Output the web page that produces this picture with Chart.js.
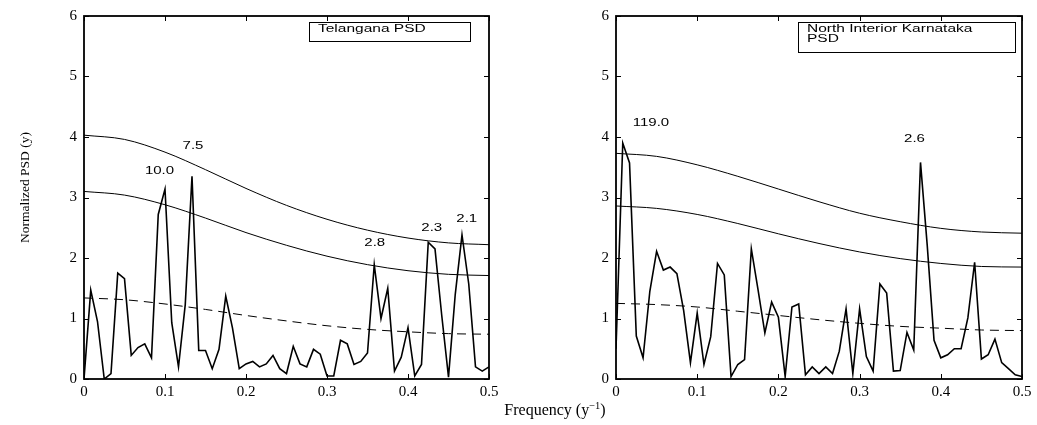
<!DOCTYPE html>
<html><head><meta charset="utf-8">
<script src="https://cdn.jsdelivr.net/npm/chart.js@4.4.1/dist/chart.umd.min.js"></script>
<style>
html,body{margin:0;padding:0;background:#fff;}
#wrap{position:relative;width:1037px;height:425px;overflow:hidden;background:#fff;}
#c1{position:absolute;left:0;top:0;width:545px;height:425px;}
#c2{position:absolute;left:545px;top:0;width:492px;height:425px;}
#xlabel{position:absolute;left:455px;width:200px;top:401px;text-align:center;font-family:"Liberation Serif","Times New Roman",serif;font-size:16px;color:#000;line-height:18px;}
#xlabel sup{font-size:10.5px;line-height:0;}
</style></head><body>
<div id="wrap">
<canvas id="c1" width="545" height="425"></canvas>
<canvas id="c2" width="492" height="425"></canvas>
<div id="xlabel">Frequency (y<sup>−1</sup>)</div>
</div>
<script>
// ---- data ----
const N_YEARS = 120;            // frequency grid k / N
const telanganaPSD = [0,1.47,0.95,0.0,0.09,1.75,1.66,0.39,0.52,0.58,0.35,2.72,3.14,0.93,0.2,1.23,3.35,0.47,0.47,0.17,0.49,1.37,0.84,0.17,0.25,0.29,0.2,0.25,0.39,0.17,0.09,0.54,0.25,0.2,0.49,0.41,0.05,0.05,0.64,0.58,0.24,0.29,0.43,1.89,1.0,1.5,0.13,0.36,0.85,0.05,0.24,2.26,2.15,1.05,0.03,1.4,2.38,1.57,0.2,0.13,0.2];
const karnatakaPSD = [0.5,3.9,3.57,0.71,0.35,1.45,2.11,1.8,1.85,1.74,1.13,0.27,1.09,0.24,0.7,1.91,1.72,0.04,0.24,0.32,2.15,1.47,0.76,1.27,1.02,0.04,1.19,1.24,0.07,0.2,0.09,0.2,0.09,0.46,1.16,0.09,1.16,0.37,0.13,1.57,1.42,0.13,0.14,0.77,0.48,3.58,2.2,0.64,0.35,0.4,0.5,0.5,1.01,1.93,0.33,0.4,0.66,0.27,0.17,0.07,0.04];

const curveFreqs = [0,0.05,0.1,0.15,0.2,0.25,0.3,0.35,0.4,0.45,0.5];
const telUpper  = [4.03,3.96,3.75,3.46,3.15,2.87,2.64,2.46,2.33,2.25,2.22];
const telLower  = [3.10,3.04,2.88,2.66,2.42,2.21,2.03,1.89,1.79,1.73,1.71];
const telMean   = [1.34,1.31,1.24,1.15,1.05,0.96,0.88,0.82,0.78,0.75,0.74];
const karUpper  = [3.73,3.68,3.54,3.35,3.14,2.93,2.74,2.60,2.49,2.43,2.41];
const karLower  = [2.86,2.82,2.72,2.57,2.40,2.24,2.10,1.99,1.91,1.86,1.85];
const karMean   = [1.25,1.23,1.19,1.12,1.05,0.98,0.92,0.87,0.84,0.81,0.80];

const telPeakLabels = [
  {x:0.0932, y:3.44, t:'10.0'},
  {x:0.1346, y:3.85, t:'7.5'},
  {x:0.3589, y:2.25, t:'2.8'},
  {x:0.4293, y:2.50, t:'2.3'},
  {x:0.4725, y:2.64, t:'2.1'}
];
const karPeakLabels = [
  {x:0.0431, y:4.22, t:'119.0'},
  {x:0.3676, y:3.96, t:'2.6'}
];
const telLegend = ['Telangana PSD'];
const karLegend = ['North Interior Karnataka','PSD'];
const xTickStep = 0.1, yTickStep = 1;

// ---- drawing ----
const SERIF = '"Liberation Serif","Times New Roman",Times,serif';
const SANS = '"Liberation Sans",Arial,Helvetica,sans-serif';

function pts(xs, ys){ return ys.map((v,i)=>({x:xs[i], y:v})); }
const gridFreqs = telanganaPSD.map((_,k)=>k/N_YEARS);

function framePlugin(cfg){
  return {
    id:'frame',
    afterDraw(chart){
      const ctx = chart.ctx, a = chart.chartArea;
      const xs = chart.scales.x, ys = chart.scales.y;
      ctx.save();
      ctx.strokeStyle = '#000'; ctx.lineWidth = 1.8;
      ctx.strokeRect(a.left, a.top, a.right-a.left, a.bottom-a.top);
      ctx.lineWidth = 1;
      const tl = 5;
      ys.ticks.forEach(t=>{
        const y = Math.round(ys.getPixelForValue(t.value))+0.5;
        ctx.beginPath(); ctx.moveTo(a.left, y); ctx.lineTo(a.left+tl, y);
        ctx.moveTo(a.right, y); ctx.lineTo(a.right-tl, y); ctx.stroke();
      });
      xs.ticks.forEach(t=>{
        const x = Math.round(xs.getPixelForValue(t.value))+0.5;
        ctx.beginPath(); ctx.moveTo(x, a.bottom); ctx.lineTo(x, a.bottom-tl);
        ctx.moveTo(x, a.top); ctx.lineTo(x, a.top+tl); ctx.stroke();
      });
      // legend box
      const b = cfg.box;
      const bx = a.left + b.dx, by = a.top + b.dy;
      ctx.lineWidth = 1;
      ctx.strokeRect(Math.round(bx)+0.5, Math.round(by)+0.5, b.w, b.h);
      ctx.fillStyle = '#000';
      ctx.font = '10px ' + SANS;
      ctx.textAlign = 'left'; ctx.textBaseline = 'middle';
      cfg.legend.forEach((line,i)=>{
        ctx.save();
        ctx.translate(bx + 9, by + 7.5 + i*10);
        ctx.scale(1.55,1);
        ctx.fillText(line, 0, 0);
        ctx.restore();
      });
      // peak period labels
      ctx.textAlign = 'center';
      cfg.peaks.forEach(p=>{
        ctx.save();
        ctx.translate(xs.getPixelForValue(p.x), ys.getPixelForValue(p.y));
        ctx.scale(1.5,1);
        ctx.fillText(p.t, 0, 0);
        ctx.restore();
      });
      if (cfg.yTitle){
        ctx.save();
        ctx.translate(25, (a.top+a.bottom)/2 - 10);
        ctx.rotate(-Math.PI/2);
        ctx.font = '13.5px ' + SERIF;
        ctx.textAlign = 'center'; ctx.textBaseline = 'middle';
        ctx.fillText(cfg.yTitle, 0, 0);
        ctx.restore();
      }
      ctx.restore();
    }
  };
}

function makeChart(id, series, upper, lower, mean, cfg){
  const line = (data, w, extra) => Object.assign({data, borderColor:'#000', borderWidth:w, pointRadius:0, fill:false, tension:0}, extra||{});
  return new Chart(document.getElementById(id), {
    type:'line',
    data:{datasets:[
      line(pts(gridFreqs, series), 1.6),
      line(pts(curveFreqs, upper), 1, {cubicInterpolationMode:'monotone'}),
      line(pts(curveFreqs, lower), 1, {cubicInterpolationMode:'monotone'}),
      line(pts(curveFreqs, mean), 1, {cubicInterpolationMode:'monotone', borderDash:[9,6]})
    ]},
    options:{
      responsive:false, animation:false, devicePixelRatio:1,
      layout:{padding:{top:11, right:cfg.padRight, bottom:0, left:0}},
      plugins:{legend:{display:false}, tooltip:{enabled:false}},
      scales:{
        x:{type:'linear', min:0, max:0.5,
           grid:{display:false, drawTicks:false}, border:{display:false},
           ticks:{stepSize:xTickStep, padding:4, maxRotation:0, color:'#000',
                  font:{family:SERIF, size:15},
                  callback:v=>String(Number(v.toFixed(1)))},
           afterFit:s=>{s.height = 46;}},
        y:{type:'linear', min:0, max:6,
           grid:{display:false, drawTicks:false}, border:{display:false},
           ticks:{stepSize:yTickStep, padding:7, color:'#000', font:{family:SERIF, size:15}},
           afterFit:s=>{s.width = cfg.yWidth;}}
      }
    },
    plugins:[framePlugin(cfg)]
  });
}

makeChart('c1', telanganaPSD, telUpper, telLower, telMean, {
  padRight:56, yWidth:84, peaks:telPeakLabels, legend:telLegend,
  box:{dx:225, dy:6, w:161, h:19}, yTitle:'Normalized PSD (y)'
});
makeChart('c2', karnatakaPSD, karUpper, karLower, karMean, {
  padRight:15, yWidth:71, peaks:karPeakLabels, legend:karLegend,
  box:{dx:182, dy:6, w:217, h:30}
});
</script>
</body></html>
